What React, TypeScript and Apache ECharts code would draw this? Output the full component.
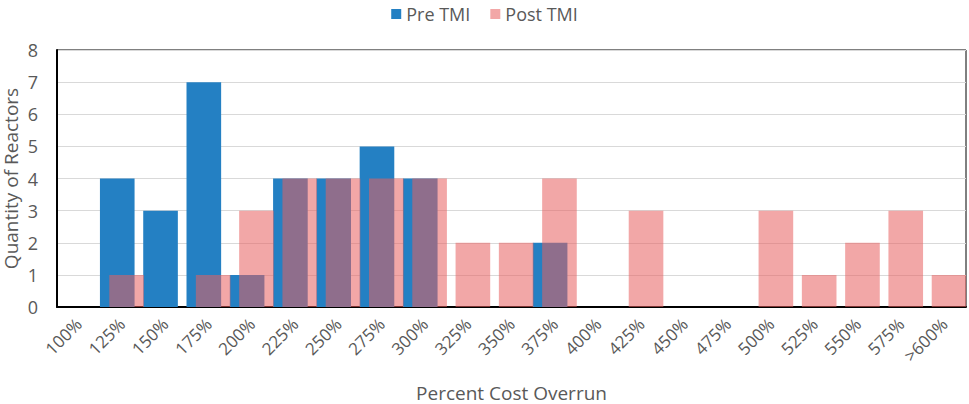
import React, { useEffect, useRef } from "react";
import * as echarts from "echarts";

const categories = [
  "100%", "125%", "150%", "175%", "200%", "225%", "250%", "275%", "300%", "325%",
  "350%", "375%", "400%", "425%", "450%", "475%", "500%", "525%", "550%", "575%", ">600%",
];
const preTMI = [0, 4, 3, 7, 1, 4, 4, 5, 4, 0, 0, 2, 0, 0, 0, 0, 0, 0, 0, 0, 0];
const postTMI = [0, 1, 0, 1, 3, 4, 4, 4, 4, 2, 2, 4, 0, 3, 0, 0, 3, 1, 2, 3, 1];
const yMax = 8;

const FONT = "'Open Sans', 'Noto Sans', sans-serif";
const GRAY = "#595959";

export default function App() {
  const ref = useRef<HTMLDivElement>(null);
  useEffect(() => {
    if (!ref.current) return;
    const chart = echarts.init(ref.current, undefined, { renderer: "svg" });
    chart.setOption({
      animation: false,
      textStyle: { fontFamily: FONT },
      legend: {
        top: 0,
        left: "center",
        itemWidth: 10,
        itemHeight: 10,
        itemGap: 20,
        icon: "rect",
        textStyle: { fontSize: 18, color: GRAY, fontFamily: FONT },
        data: ["Pre TMI", "Post TMI"],
      },
      grid: {
        left: 57,
        right: 3,
        top: 50,
        bottom: 97,
        show: true,
        borderColor: "#000",
        borderWidth: 1,
        containLabel: false,
        outerBoundsMode: "none",
      },
      xAxis: {
        type: "category",
        data: categories,
        name: "Percent Cost Overrun",
        nameLocation: "middle",
        nameGap: 76,
        nameMoveOverlap: false,
        nameTextStyle: { fontSize: 19, lineHeight: 20, color: GRAY, fontFamily: FONT },
        axisLine: { show: true, lineStyle: { color: "#000", width: 2 } },
        axisTick: { show: false },
        axisLabel: {
          rotate: 45,
          interval: 0,
          margin: 14,
          fontSize: 17,
          color: GRAY,
          fontFamily: FONT,
        },
      },
      yAxis: {
        type: "value",
        min: 0,
        max: yMax,
        interval: 1,
        name: "Quantity of Reactors",
        nameLocation: "middle",
        nameGap: 37,
        nameMoveOverlap: false,
        nameTextStyle: { fontSize: 19, lineHeight: 19, color: GRAY, fontFamily: FONT },
        axisLine: { show: true, lineStyle: { color: "#000", width: 2 } },
        axisTick: { show: false },
        axisLabel: { fontSize: 18, color: GRAY, fontFamily: FONT, margin: 19 },
        splitLine: { show: true, lineStyle: { color: "#d9d9d9", width: 1 } },
      },
      series: [
        {
          name: "Pre TMI",
          type: "bar",
          data: preTMI,
          barWidth: "80%",
          barGap: "-73%",
          itemStyle: { color: "#2480C3" },
        },
        {
          name: "Post TMI",
          type: "bar",
          data: postTMI,
          barWidth: "80%",
          barGap: "-73%",
          itemStyle: { color: "rgba(231,95,95,0.55)" },
        },
      ],
    });
    return () => chart.dispose();
  }, []);
  return (
    <div
      ref={ref}
      style={{ position: "absolute", left: 0, top: 0, width: 969, height: 404 }}
    />
  );
}
